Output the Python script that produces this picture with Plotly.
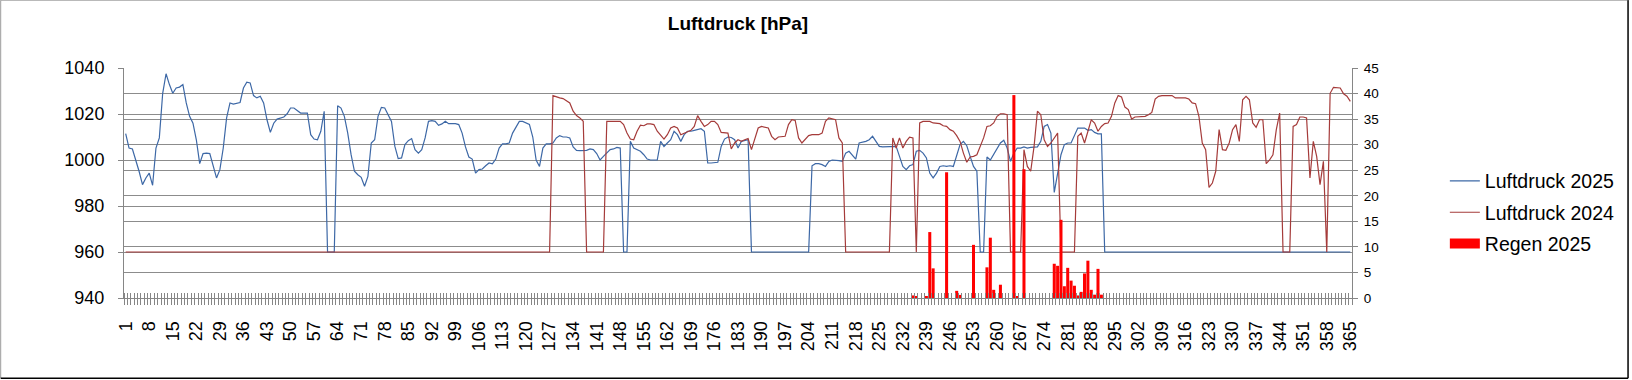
import plotly.graph_objects as go

# ---------------- data ----------------
days = list(range(1, 366))
tick_days = list(range(1, 366, 7))
tick_labels = [str(d) for d in tick_days]

luftdruck_2025 = (
    [1011.5, 1005.2, 1004.8, 1000.0, 995.0, 989.3, 992.2, 994.3, 989.0, 1005.2,
     1009.6, 1029.0, 1037.5, 1032.8, 1029.0, 1031.3, 1031.7, 1032.8, 1024.8, 1019.0,
     1016.0, 1008.8, 998.4, 1002.8, 1003.0, 1002.8, 997.2, 992.2, 995.8, 1005.2,
     1018.3, 1024.8, 1024.3, 1024.8, 1025.0, 1031.3, 1033.8, 1033.5, 1028.0, 1027.0,
     1027.7, 1024.8, 1017.5, 1012.0, 1016.0, 1017.8, 1018.3, 1018.7, 1020.1, 1022.6,
     1022.6, 1021.6, 1020.4, 1020.4, 1020.4, 1011.0, 1009.1, 1008.8, 1012.5, 1021.2]
    + [960, 960, 960]
    + [1023.6, 1022.6, 1019.0, 1011.7, 1002.3, 995.1, 993.6, 992.5, 988.6, 992.9,
       1007.4, 1008.8, 1019.0, 1022.9, 1022.6, 1019.7, 1016.8, 1006.0, 1000.6, 1000.9,
       1006.7, 1008.4, 1009.3, 1004.5, 1003.0, 1004.5, 1009.6, 1016.8, 1017.1, 1016.8,
       1015.1, 1015.7, 1016.8, 1015.8, 1015.8, 1015.8, 1015.4, 1011.7, 1005.7, 1001.3,
       1000.4, 994.3, 995.8, 996.1, 997.5, 998.7, 998.3, 1000.4, 1005.2, 1007.0,
       1007.0, 1007.4, 1011.7, 1014.3, 1016.8, 1016.8, 1016.1, 1015.5, 1010.0, 1000.0,
       997.2, 1005.2, 1007.0, 1007.0, 1007.4, 1009.6, 1010.6, 1010.0, 1010.0, 1009.6,
       1005.7, 1004.2, 1004.1, 1004.1, 1004.2, 1004.8, 1004.5, 1002.8, 1000.0, 1001.6,
       1003.3, 1004.5, 1004.8, 1005.5, 1005.2]
    + [960, 960]
    + [1008.1, 1005.2, 1004.5, 1003.8, 1002.3, 1000.4, 1000.0, 1000.0, 1000.0, 1008.1,
       1005.9, 1007.4, 1008.8, 1012.5, 1011.0, 1008.1, 1011.0, 1012.5, 1012.5, 1012.9,
       1013.2, 1013.6, 1012.5, 998.7, 998.7, 998.7, 999.0, 1005.9, 1009.1, 1010.0,
       1009.8, 1008.8, 1005.2, 1008.1, 1008.6, 1008.8]
    + [960] * 18
    + [997.5, 998.4, 998.4, 998.0, 997.2, 999.4, 1000.0, 1000.0, 999.7, 999.4,
       1003.0, 1003.8, 1002.3, 1000.4, 1007.4, 1007.7, 1008.1, 1008.8, 1010.3, 1008.1,
       1005.9, 1005.7, 1005.7, 1005.7, 1005.7, 1005.9, 1001.6, 997.2, 995.8, 997.5,
       998.0, 1003.8, 1004.2, 1003.0, 1000.9, 994.3, 992.2, 994.3, 997.2, 997.5,
       997.2, 997.5, 997.2, 1001.6, 1006.7, 1008.1, 1006.2, 1001.6, 997.2, 995.1]
    + [960, 960]
    + [1001.3, 1000.0, 1002.3, 1004.8, 1007.4, 1008.6, 1005.2, 999.4, 1003.0, 1005.2,
       1005.2, 1005.7, 1005.2, 1005.5, 1005.7, 1005.7, 1008.1, 1014.6, 1015.4, 1011.7,
       985.9, 993.6, 1002.3, 1006.7, 1007.4, 1007.4, 1011.0, 1013.9, 1013.9, 1013.9,
       1012.9, 1013.2, 1012.0, 1011.4, 1011.4]
    + [960] * 74
)

luftdruck_2024 = (
    [960] * 127
    + [1028.0, 1027.4, 1027.0, 1026.7, 1025.9, 1024.8, 1021.2, 1019.3, 1018.3, 1016.8]
    + [960] * 6
    + [1016.8, 1016.8, 1016.8, 1016.8, 1016.8, 1015.4, 1011.7, 1009.1, 1008.8, 1012.5,
       1015.1, 1014.9, 1015.7, 1015.7, 1015.4, 1012.5, 1011.0, 1009.1, 1011.0, 1013.9,
       1014.6, 1013.9, 1011.0, 1011.7, 1012.5, 1012.9, 1014.6, 1019.3, 1016.8, 1014.6,
       1015.4, 1016.8, 1016.8, 1015.4, 1012.0, 1011.7, 1011.7, 1004.8, 1007.4, 1008.8,
       1008.1, 1008.8, 1009.3, 1004.5, 1008.8, 1013.9, 1014.6, 1014.2, 1013.9, 1010.3,
       1008.8, 1010.0, 1010.0, 1010.3, 1015.4, 1017.5, 1017.2, 1009.6, 1007.4, 1008.8,
       1010.6, 1011.0, 1011.0, 1011.0, 1011.7, 1016.8, 1018.3, 1017.8, 1017.5, 1009.6,
       1007.4]
    + [960] * 14
    + [1009.6, 1005.2, 1009.6, 1005.2, 1008.1, 1009.9, 1009.6]
    + [960]
    + [1016.1, 1016.8, 1016.8, 1016.8, 1016.1, 1015.8, 1015.8, 1014.9, 1014.6, 1013.2,
       1012.5, 1010.6, 1008.1, 1003.0, 999.0, 1001.3, 1001.6, 1002.3, 1005.9, 1009.6,
       1014.6, 1014.9, 1016.1, 1019.0, 1020.1, 1020.1, 1019.7]
    + [960] * 4
    + [1004.5, 997.2, 995.1, 1005.9, 1021.2, 1019.7, 1008.8, 1005.9, 1007.4, 1009.6,
       1011.7]
    + [960] * 5
    + [1010.3, 1011.7, 1007.4, 1012.5, 1017.5, 1016.1, 1012.5, 1014.6, 1015.8, 1016.1,
       1019.0, 1024.8, 1028.0, 1027.4, 1023.0, 1021.9, 1017.8, 1018.7, 1018.7, 1018.7,
       1019.0, 1019.7, 1020.7, 1026.5, 1027.7, 1028.0, 1028.1, 1028.1, 1028.0, 1027.0,
       1027.0, 1027.0, 1027.0, 1026.5, 1024.8, 1024.5, 1019.0, 1007.4, 1004.5, 988.1,
       990.0, 995.1, 1013.2, 1004.5, 1004.2, 1007.4, 1013.2, 1015.4, 1008.1, 1026.2,
       1027.7, 1026.2, 1016.1, 1014.2, 1017.5, 1017.5, 998.4, 1000.0, 1002.3, 1013.2,
       1020.4]
    + [960] * 3
    + [1014.6, 1015.4, 1018.7, 1018.7, 1018.3, 992.2, 1008.1, 1001.6, 989.3, 999.4]
    + [960]
    + [1029.0, 1031.6, 1031.6, 1031.3, 1028.8, 1027.7, 1025.5]
)

regen_days = [235, 236, 239, 240, 241, 245, 248, 249, 253, 257, 258, 259, 261, 265,
              266, 268, 277, 278, 279, 280, 281, 282, 283, 284, 285, 286, 287, 288,
              289, 290, 291]
regen_2025 = [0.5, 0.3, 0.3, 12.9, 5.8, 24.6, 1.4, 0.6, 10.4, 6.0, 11.8, 1.6, 2.6, 39.7,
              0.2, 25.2, 6.7, 6.3, 15.3, 2.3, 5.9, 3.4, 2.4, 0.5, 1.2, 4.8, 7.3, 1.6,
              0.65, 5.7, 0.65]

# ---------------- figure ----------------
FONT = "Liberation Sans, Arial, sans-serif"
BLUE = "#3D68A6"
DARKRED = "#A53B3A"
GRID = "#8C8C8C"

fig = go.Figure()
fig.add_trace(go.Scatter(x=days, y=luftdruck_2025, mode="lines", name="Luftdruck 2025",
                         line=dict(color=BLUE, width=1.2), legendgroup="a"))
fig.add_trace(go.Scatter(x=days, y=luftdruck_2024, mode="lines", name="Luftdruck 2024",
                         line=dict(color=DARKRED, width=1.2), legendgroup="b"))
fig.add_trace(go.Bar(x=regen_days, y=regen_2025, name="Regen 2025", yaxis="y2",
                     marker=dict(color="#FF0000", line=dict(width=0)),
                     legendgroup="c", showlegend=False))
# legend entry for the rain bars, drawn as a wide red block like the original
fig.add_trace(go.Scatter(x=[None], y=[None], yaxis="y2", mode="lines", name="Regen 2025",
                         line=dict(color="#FF0000", width=14), legendgroup="c",
                         hoverinfo="skip"))
# helper (empty) trace so the overlay x-axis with inner tick marks is drawn
fig.add_trace(go.Scatter(x=[None], y=[None], xaxis="x2", showlegend=False,
                         hoverinfo="skip"))

L, R, T, B = 124, 1354, 68.3, 298.3
W, H = 1632, 380
pw, ph = R - L, B - T

def px(xp):
    return (xp - L) / pw

def py(yp):
    return (B - yp) / ph

fig.update_layout(
    width=W, height=H,
    margin=dict(l=L, r=W - R, t=T, b=H - B, pad=0),
    paper_bgcolor="white", plot_bgcolor="white",
    font=dict(family=FONT, color="black"),
    title=dict(text="<b>Luftdruck [hPa]</b>", x=0.5, xanchor="center",
               xref="paper", y=1 - 23 / H, yanchor="middle",
               font=dict(size=19, family=FONT, color="black")),
    bargap=0.1,
    showlegend=True,
    legend=dict(x=px(1447), xanchor="left", y=py(213), yanchor="middle",
                font=dict(size=19.5, family=FONT, color="black"),
                bgcolor="rgba(0,0,0,0)", tracegroupgap=3, itemwidth=30,
                traceorder="grouped"),
    xaxis=dict(range=[0.5, 365.5], tickmode="array", tickvals=tick_days,
               ticktext=tick_labels, tickangle=-90, ticks="",
               tickfont=dict(size=18, family=FONT, color="black"),
               ticklabelstandoff=15,
               showgrid=False, zeroline=False, showline=True,
               linecolor="#868686", linewidth=1,
               minor=dict(tick0=0.5, dtick=1, ticks="outside", ticklen=6,
                          tickcolor="#868686", tickwidth=1, showgrid=False)),
    xaxis2=dict(range=[0.5, 365.5], overlaying="x", anchor="y", side="bottom",
                showticklabels=False, ticks="", showgrid=False, zeroline=False,
                showline=False,
                minor=dict(tick0=0.5, dtick=1, ticks="inside", ticklen=5,
                           tickcolor="#868686", tickwidth=1, showgrid=False)),
    yaxis=dict(range=[940, 1040], dtick=20, tick0=940, ticks="outside", ticklen=5,
               tickcolor="#868686", showline=True, linecolor="#868686",
               gridcolor=GRID, gridwidth=1, zeroline=False,
               tickfont=dict(size=18, family=FONT, color="black"),
               ticklabelstandoff=10),
    yaxis2=dict(range=[0, 45], dtick=5, tick0=0, overlaying="y", side="right",
                ticks="outside", ticklen=5, tickcolor="#868686", showline=True,
                linecolor="#868686", showgrid=True, gridcolor=GRID, gridwidth=1,
                zeroline=False, tickfont=dict(size=13.5, family=FONT, color="black"),
                ticklabelstandoff=3),
)

# outer chart border
fig.add_shape(type="line", xref="paper", yref="paper", x0=px(0.5), x1=px(1631.5),
              y0=py(0.5), y1=py(0.5), line=dict(color="#9A9A9A", width=1), layer="above")
fig.add_shape(type="line", xref="paper", yref="paper", x0=px(0.5), x1=px(0.5),
              y0=py(0.5), y1=py(378.5), line=dict(color="#9A9A9A", width=1), layer="above")
fig.add_shape(type="line", xref="paper", yref="paper", x0=px(0.5), x1=px(1630.5),
              y0=py(378.5), y1=py(378.5), line=dict(color="#000000", width=1.5), layer="above")
fig.add_shape(type="line", xref="paper", yref="paper", x0=px(1630.5), x1=px(1630.5),
              y0=py(0.5), y1=py(378.5), line=dict(color="#000000", width=1.5), layer="above")

fig.write_html("out.html",
               config={"displayModeBar": False},
               post_script="document.body.style.margin='0px';"
                           "document.body.style.overflow='hidden';")
